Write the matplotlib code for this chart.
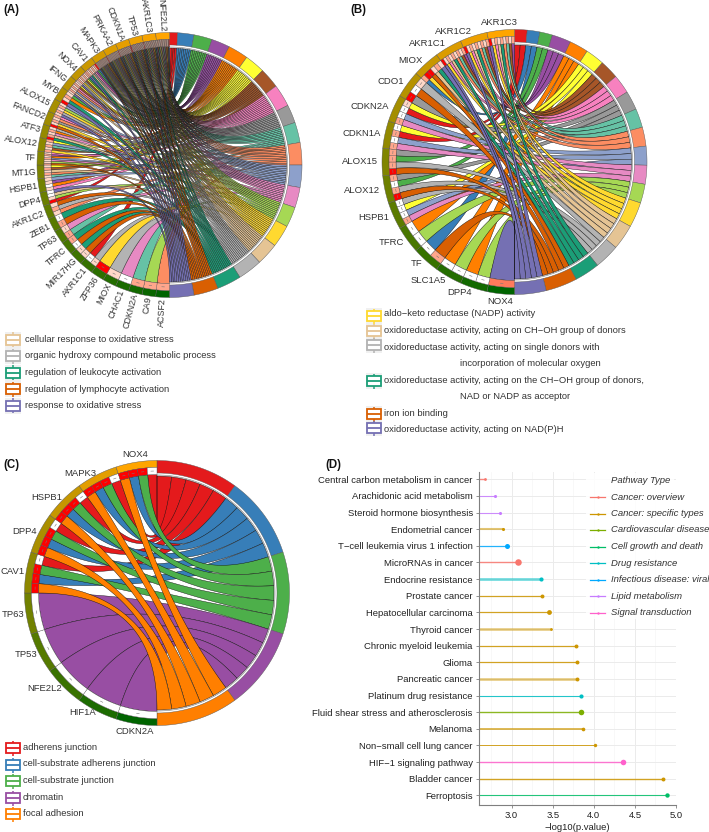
import numpy as np
import matplotlib
matplotlib.use('Agg')
import matplotlib.pyplot as plt
from matplotlib.patches import Polygon, Rectangle
from matplotlib.colors import to_rgb

plt.rcParams['font.family'] = ['Liberation Sans', 'DejaVu Sans']

# --- colours ---
TERM_COLORS = ['#e41a1c', '#377eb8', '#4daf4a', '#984ea3', '#ff7f00', '#ffff33', '#a65628', '#f781bf', '#999999',
               '#66c2a5', '#fc8d62', '#8da0cb', '#e78ac3', '#a6d854', '#ffd92f', '#e5c494', '#b3b3b3',
               '#1b9e77', '#d95f02', '#7570b3']
CELL_COLORS = {'w': '#ffffff', 'l': '#ffd8c8', 's': '#ffa68c', 'r': '#ff0000', 'o': '#ff7a5c'}

# --- panel A: genes listed clockwise from the bottom, with the terms each one links to ---
A_GENES = ['ACSF2', 'CA9', 'CDKN2A', 'CHAC1', 'MIOX', 'ZFP36', 'AKR1C1', 'MIR17HG', 'TFRC', 'TP63', 'ZEB1', 'AKR1C2',
           'DPP4', 'HSPB1', 'MT1G', 'TF', 'ALOX12', 'ATF3', 'FANCD2', 'ALOX15', 'MYB', 'IFNG', 'NOX4', 'CAV1',
           'MAPK3', 'PRKAA2', 'CDKN1A', 'TP53', 'AKR1C3', 'NFE2L2']
A_ALL = [19, 18, 17, 16, 15, 14, 13, 12, 11, 10, 9, 8, 7, 6, 5, 4, 3, 2, 1]
A_LINKS = [[10], [13], [9], [12], [16], [14], [16, 0], [18, 17], [18, 17], [9, 12], [18, 17], [10, 16, 18],
           [0, 13, 15, 19], [7, 4, 3, 11], [9, 10, 15, 6, 5], [18, 13, 12, 11, 4, 3, 7],
           [14, 6, 9, 11, 5], [17, 15, 12, 4, 16], [18, 14, 8, 10, 7], [19, 16, 14, 13, 11], [19, 17, 4, 2],
           [19, 15, 11, 10, 7, 6, 5], [19, 16, 14, 8, 6, 5, 2, 1], [19, 17, 15, 8, 7, 3, 2, 1],
           A_ALL, A_ALL, A_ALL, A_ALL + [0], A_ALL + [0], A_ALL]
A_CELLS = ['s', 's', 's', 'w', 'l', 'r', 'lw', 'll', 'ws', 'sl', 'sw', 'lsl',
           'rlww', 'lwll', 'lslsl', 'sllslsl',
           'slsls', 'rslsl', 'rlsls', 'lslsl', 'rlsl',
           'lslslsl', 'lslslsls', 'slslslsr',
           'lslslslslslslslslsr', 'slslslslslslslslslr', 'lslslslslslslslslsr',
           'rlslslslslslslslslsl', 'rlslslslslslslslslsl', 'lslslslslslslslslsr']
A_LEGEND = ['cellular response to oxidative stress', 'organic hydroxy compound metabolic process',
            'regulation of leukocyte activation', 'regulation of lymphocyte activation',
            'response to oxidative stress']
A_LEGEND_TERMS = [15, 16, 17, 18, 19]

# --- panel B ---
B_GENES = ['NOX4', 'DPP4', 'SLC1A5', 'TF', 'TFRC', 'HSPB1', 'ALOX12', 'ALOX15', 'CDKN1A', 'CDKN2A', 'CDO1', 'MIOX',
           'AKR1C1', 'AKR1C2', 'AKR1C3']
B_AKR = [19, 14, 7, 15, 17, 10, 9, 6, 3]
B_LINKS = [[19], [13, 4], [13, 4], [18, 1], [13, 4], [12, 11, 5, 16], [18, 16, 2, 8], [18, 16, 2, 8],
           [12, 11, 0, 5], [12, 11, 0, 5], [8, 18, 16], [1, 14, 18, 15, 17, 19], B_AKR, B_AKR, B_AKR]
B_CELLS = ['o', 'ww', 'ww', 'sw', 'ww', 'swww', 'rsws', 'rsss', 'swsw', 'swwl', 'rwl', 'srrlsl',
           'rlslslsls', 'rlslslsls', 'rlslslsls']
B_LEGEND = ['aldo\u2212keto reductase (NADP) activity', 'oxidoreductase activity, acting on CH\u2212OH group of donors',
            'oxidoreductase activity, acting on single donors with', 'incorporation of molecular oxygen',
            'oxidoreductase activity, acting on the CH\u2212OH group of donors,', 'NAD or NADP as acceptor',
            'iron ion binding', 'oxidoreductase activity, acting on NAD(P)H']
B_LEGEND_TERMS = [14, 15, 16, None, 17, None, 18, 19]

# --- panel C ---
C_GENES = ['CDKN2A', 'HIF1A', 'NFE2L2', 'TP53', 'TP63', 'CAV1', 'DPP4', 'HSPB1', 'MAPK3', 'NOX4']
C_LINKS = [[3], [3], [3], [3], [3], [4, 1, 2, 0], [4, 1, 2, 0], [4, 1, 2, 0], [4, 1, 2, 0], [4, 1, 2, 0]]
C_CELLS = ['w', 'w', 'w', 'w', 'w', 'rrrw', 'rrrw', 'rrrw', 'rrrw', 'rrrw']
C_LEGEND = ['adherens junction', 'cell-substrate adherens junction', 'cell-substrate junction', 'chromatin',
            'focal adhesion']
C_TERM_COLORS = ['#e41a1c', '#377eb8', '#4daf4a', '#984ea3', '#ff7f00']

# --- panel D ---
D_PATHWAYS = ['Central carbon metabolism in cancer', 'Arachidonic acid metabolism', 'Steroid hormone biosynthesis',
              'Endometrial cancer', 'T\u2212cell leukemia virus 1 infection', 'MicroRNAs in cancer',
              'Endocrine resistance', 'Prostate cancer', 'Hepatocellular carcinoma', 'Thyroid cancer',
              'Chronic myeloid leukemia', 'Glioma', 'Pancreatic cancer', 'Platinum drug resistance',
              'Fluid shear stress and atherosclerosis', 'Melanoma', 'Non\u2212small cell lung cancer',
              'HIF\u22121 signaling pathway', 'Bladder cancer', 'Ferroptosis']
D_VALUES = [2.68, 2.80, 2.86, 2.90, 2.94, 3.08, 3.36, 3.37, 3.46, 3.475, 3.78, 3.80, 3.80, 3.85, 3.85, 3.87, 4.02,
            4.35, 4.84, 4.89]
D_TYPES = [0, 6, 6, 1, 5, 0, 4, 1, 1, 1, 1, 1, 1, 4, 2, 1, 1, 7, 1, 3]
D_LINE_W = [1.0, 0.8, 0.8, 1.5, 0.9, 1.0, 2.0, 0.9, 0.9, 1.8, 0.9, 0.9, 1.8, 0.8, 1.0, 1.1, 0.7, 1.0, 1.0, 0.8]
D_POINT_S = [4, 5, 5, 5, 13, 22, 9, 8, 12, 4, 8, 8, 8, 9, 16, 7, 6, 16, 8, 10]
D_TYPE_NAMES = ['Cancer: overview', 'Cancer: specific types', 'Cardiovascular disease', 'Cell growth and death',
                'Drug resistance', 'Infectious disease: viral', 'Lipid metabolism', 'Signal transduction']
D_TYPE_COLORS = ['#F8766D', '#CD9600', '#7CAE00', '#00BE67', '#00BFC4', '#00A9FF', '#C77CFF', '#FF61CC']
D_TICKS = [3.0, 3.5, 4.0, 4.5, 5.0]
D_MINOR = [2.75, 3.25, 3.75, 4.25, 4.75]

TXT = '#333333'
LEG_SIZE = 6.75
fig = plt.figure(figsize=(7.09, 8.32), dpi=100)
ax = fig.add_axes([0, 0, 1, 1])
ax.set_xlim(0, 709)
ax.set_ylim(832, 0)
ax.axis('off')
ax.set_zorder(5)


def pol(cx, cy, r, a):
    # a in degrees, clockwise from the top of the circle
    a = np.radians(a)
    return cx + r * np.sin(a), cy - r * np.cos(a)


def ring(cx, cy, a0, a1, r0, r1, fc, ec='#555555', lw=0.3, z=3):
    aa = np.linspace(a0, a1, 30)
    x0, y0 = pol(cx, cy, r0, aa)
    x1, y1 = pol(cx, cy, r1, aa[::-1])
    pts = np.column_stack([np.r_[x0, x1], np.r_[y0, y1]])
    ax.add_patch(Polygon(pts, closed=True, fc=fc, ec=ec, lw=lw, zorder=z))


def chord(cx, cy, genes, links, cells, colors, lw=0.3, rotate=False, pad=4, R=132.5):
    n_g = len(genes)
    w_g = 180.0 / n_g
    n_t = len(colors)
    counts = [sum(t in l for l in links) for t in range(n_t)]
    total = sum(counts)
    t_start = np.cumsum([0] + counts[:-1]) * 180.0 / total
    unit = 180.0 / total
    low = np.array(to_rgb('#006400'))
    high = np.array(to_rgb('#ffa500'))

    # slots on term side run from the top gene downwards
    next_slot = [0] * n_t
    ribbons = []
    for g in range(n_g - 1, -1, -1):
        a_g = 180 + g * w_g
        cw = w_g / len(links[g])
        for j, t in enumerate(links[g]):
            b0 = t_start[t] + next_slot[t] * unit
            next_slot[t] += 1
            ribbons.append((t, a_g + j * cw, a_g + (j + 1) * cw, b0, b0 + unit))
    ribbons.sort(key=lambda r: r[0])

    rg = R - 14
    rt = R - 15.5
    s = np.linspace(0, 1, 60)
    for t, a0, a1, b0, b1 in ribbons:
        aa = np.linspace(a0, a1, 6)
        bb = np.linspace(b0, b1, 6)
        gx, gy = pol(0, 0, rg, aa)
        tx, ty = pol(0, 0, rt, bb)
        up_x = (1 - s) ** 2 * gx[-1] + s ** 2 * tx[0]
        up_y = (1 - s) ** 2 * gy[-1] + s ** 2 * ty[0]
        dn_x = (1 - s) ** 2 * tx[-1] + s ** 2 * gx[0]
        dn_y = (1 - s) ** 2 * ty[-1] + s ** 2 * gy[0]
        xs = np.r_[gx, up_x, tx, dn_x] + cx
        ys = np.r_[gy, up_y, ty, dn_y] + cy
        ax.add_patch(Polygon(np.column_stack([xs, ys]), closed=True, fc=colors[t], ec='#111111', lw=lw, zorder=2))

    for t in range(n_t):
        ring(cx, cy, t_start[t], t_start[t] + counts[t] * unit, R - 12.5, R, colors[t])
    aa = np.linspace(0, 180, 100)
    ax.plot(*pol(cx, cy, R - 14.5, aa), color='#777777', lw=0.4, zorder=3)

    for g in range(n_g):
        a_g = 180 + g * w_g
        c = tuple(low + (high - low) * g / (n_g - 1))
        ring(cx, cy, a_g, a_g + w_g, R - 7, R, c)
        cw = w_g / len(links[g])
        for j in range(len(links[g])):
            ring(cx, cy, a_g + j * cw, a_g + (j + 1) * cw, rg, R - 7, CELL_COLORS[cells[g][j]], ec='#444444', lw=0.25)
            if cw > 2.5:
                mid = a_g + (j + 0.5) * cw
                ax.plot(*pol(cx, cy, R - 10.5, np.array([mid - 0.6, mid + 0.6])), color='#777777', lw=0.4, zorder=4)
        mid = a_g + w_g / 2
        if rotate:
            x, y = pol(cx, cy, R + 1, mid)
            ax.text(x, y, genes[g], rotation=270 - mid, rotation_mode='anchor', ha='right', va='center',
                    fontsize=6.4, color=TXT, zorder=6)
        elif abs(mid - 180) < 10 or abs(mid - 360) < 10:
            x, y = pol(cx, cy, R + 7.5, mid)
            ax.text(x, y, genes[g], ha='center', va='center', fontsize=6.8, color=TXT, zorder=6)
        else:
            x, y = pol(cx, cy, R + pad, mid)
            ax.text(x, y, genes[g], ha='right', va='center', fontsize=6.8, color=TXT, zorder=6)


def key(x, y, color, shade=True):
    if shade:
        ax.add_patch(Rectangle((x - 8, y - 8), 16, 16, fc='#f0f0f0', ec='none', zorder=1))
    ax.plot([x, x], [y - 7.5, y - 5], color=color, lw=1.1, solid_capstyle='butt', zorder=3)
    ax.plot([x, x], [y + 5, y + 7.5], color=color, lw=1.1, solid_capstyle='butt', zorder=3)
    ax.add_patch(Rectangle((x - 7, y - 5), 14, 10, fc='#ffffff', ec=color, lw=1.3, zorder=3))
    ax.plot([x - 7, x + 7], [y, y], color=color, lw=1.3, solid_capstyle='butt', zorder=3)


chord(169.5, 165, A_GENES, A_LINKS, A_CELLS, TERM_COLORS, lw=0.25, rotate=True)
chord(514.5, 162, B_GENES, B_LINKS, B_CELLS, TERM_COLORS, pad=4.5)
chord(157, 593, C_GENES, C_LINKS, C_CELLS, C_TERM_COLORS, pad=2)

# legends
for txt, t, y in zip(A_LEGEND, A_LEGEND_TERMS, [339.5, 356, 372.7, 389, 405.7]):
    key(13.3, y, TERM_COLORS[t])
    ax.text(25, y, txt, va='center', fontsize=LEG_SIZE, color=TXT)

b_rows = [314, 330.7, 347.3, 363.7, 380.3, 396.7, 413.3, 429.7]
b_keys = {0: 316, 1: 331, 2: 345, 4: 381, 6: 414, 7: 428}
for i, (txt, t, y) in enumerate(zip(B_LEGEND, B_LEGEND_TERMS, b_rows)):
    if t is None:
        ax.text(459.5, y, txt, va='center', fontsize=LEG_SIZE, color=TXT)
    else:
        key(373.8, b_keys[i], TERM_COLORS[t])
        ax.text(383.5, y, txt, va='center', fontsize=LEG_SIZE, color=TXT)

for txt, c, y in zip(C_LEGEND, C_TERM_COLORS, [747.3, 764, 780.3, 797, 813.3]):
    key(12.7, y + 1, c, shade=False)
    ax.text(22.7, y, txt, va='center', fontsize=LEG_SIZE, color=TXT)

for lab, x, y in [('(A)', 3, 10), ('(B)', 350, 10), ('(C)', 3, 465), ('(D)', 325, 465)]:
    ax.text(x, y, lab, fontsize=8.3, fontweight='bold', va='center', color='#111111')

# --- panel D: lollipops ---
axd = fig.add_axes([478.7 / 709, 1 - 805 / 832, (676 - 478.7) / 709, (805 - 471.7) / 832])
rows = np.arange(len(D_PATHWAYS))
axd.set_xlim(2.6, 5.0)
axd.set_ylim(19.58, -0.457)
axd.set_xticks(D_TICKS)
axd.set_xticks(D_MINOR, minor=True)
axd.set_yticks(rows)
axd.set_yticklabels(D_PATHWAYS)
axd.grid(True, which='major', color='#ebebeb', lw=0.7)
axd.grid(True, which='minor', axis='x', color='#f3f3f3', lw=0.4)
axd.set_axisbelow(True)
for side in ['top', 'right']:
    axd.spines[side].set_visible(False)
for side in ['left', 'bottom']:
    axd.spines[side].set_color('#7f7f7f')
    axd.spines[side].set_linewidth(0.8)
axd.tick_params(axis='both', which='major', labelsize=6.8, labelcolor='#222222', color='#666666', length=2.2, width=0.5, pad=2)
axd.tick_params(axis='x', which='minor', length=0)
axd.set_xlabel('\u2212log10(p.value)', fontsize=6.8, color='#222222', labelpad=2)
for i, (v, tp) in enumerate(zip(D_VALUES, D_TYPES)):
    col = D_TYPE_COLORS[tp]
    # the thick stems are paler in the picture
    axd.hlines(i, 2.6, v, color=col, lw=D_LINE_W[i], alpha=0.55 if D_LINE_W[i] > 1.4 else 0.85, zorder=2)
    axd.scatter([v], [i], s=D_POINT_S[i], color=col, linewidths=0, zorder=3)

# legend of panel D lives on the page axes because it runs past the panel
ax.add_patch(Rectangle((586, 473), 88, 146, fc='#ffffff', ec='none', alpha=0.9, zorder=1))
ax.text(610.7, 480.7, 'Pathway Type', fontsize=6.8, style='italic', va='center', color=TXT)
for nm, c, y in zip(D_TYPE_NAMES, D_TYPE_COLORS, [497, 513.7, 530, 546.7, 563, 579.7, 596.3, 612.7]):
    ax.plot([590, 605], [y, y], color=c, lw=0.9, zorder=3)
    ax.scatter([597.5], [y], s=3, color=c, linewidths=0, zorder=4)
    ax.text(610.7, y, nm, fontsize=6.8, style='italic', va='center', color=TXT)

fig.savefig('out.png', dpi=100)
